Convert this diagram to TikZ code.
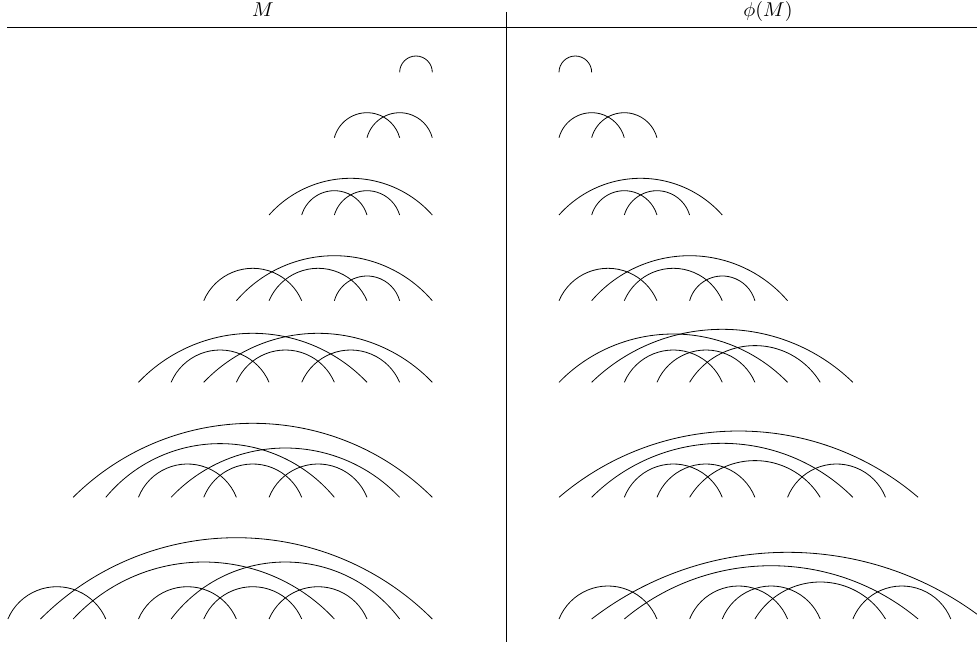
\documentclass[tikz,border=0pt]{standalone}
\usetikzlibrary{calc}

\begin{document}
\begin{tikzpicture}[
    x=0.5pt, y=0.5pt,
    hump/.style={to path={
        let \p1=(\tikztostart), \p2=(\tikztotarget), \p3=(0,#1),
            \n1={(\x2-\x1)/2}, \n2={\y3},
            \n3={(\n1*(\n1/\n2)+\n2)/2},
            \n4={asin((\n3-\n2)/\n3)}
        in arc[start angle=180-\n4, end angle=\n4, radius={\n3*1pt}]}},
    head/.style={anchor=base}
]
\useasboundingbox (0,0) rectangle (977,-647);

% Kopfzeile und Tabellenlinien
\node[head] (hM) at (263,-16.5) {$M$};
\node[head] (hphi) at (768,-16.5) {$\phi(M)$};
\coordinate (hl) at (7,-27);
\coordinate (hr) at (977,-27);
\coordinate (vt) at (506,-12);
\coordinate (vb) at (506,-642);
\draw (hl) -- (hr);
\draw (vt) -- (vb);

% Punkte jeder Zeile (links rechtsbuendig, rechts linksbuendig)
\foreach \r/\n/\y in {1/2/72.3, 2/4/137.7, 3/6/215, 4/8/300.7, 5/10/382.3, 6/12/497.3, 7/14/619} {
    \foreach \k in {1,...,\n} {
        \coordinate (m\r-\k) at ({432.3-(\n-\k)*32.65}, -\y);
        \coordinate (p\r-\k) at ({559+(\k-1)*32.65}, -\y);
    }
}

% Zeile 1
\draw (m1-1) to[hump=16.3] (m1-2);
\draw (p1-1) to[hump=16.3] (p1-2);

% Zeile 2
\draw (m2-1) to[hump=25] (m2-3);
\draw (m2-2) to[hump=25] (m2-4);
\draw (p2-1) to[hump=25] (p2-3);
\draw (p2-2) to[hump=25] (p2-4);

% Zeile 3
\draw (m3-1) to[hump=36.7] (m3-6);
\draw (m3-2) to[hump=24.3] (m3-4);
\draw (m3-3) to[hump=24.3] (m3-5);
\draw (p3-1) to[hump=36.7] (p3-6);
\draw (p3-2) to[hump=24.3] (p3-4);
\draw (p3-3) to[hump=24.3] (p3-5);

% Zeile 4
\draw (m4-1) to[hump=32.4] (m4-4);
\draw (m4-2) to[hump=45] (m4-8);
\draw (m4-3) to[hump=32.4] (m4-6);
\draw (m4-5) to[hump=24.7] (m4-7);
\draw (p4-1) to[hump=32.4] (p4-4);
\draw (p4-2) to[hump=45] (p4-8);
\draw (p4-3) to[hump=32.4] (p4-6);
\draw (p4-5) to[hump=24.7] (p4-7);

% Zeile 5
\draw (m5-1) to[hump=49] (m5-8);
\draw (m5-2) to[hump=32.3] (m5-5);
\draw (m5-3) to[hump=49] (m5-10);
\draw (m5-4) to[hump=32.3] (m5-7);
\draw (m5-6) to[hump=32.3] (m5-9);
\draw (p5-1) to[hump=48.3] (p5-8);
\draw (p5-2) to[hump=53] (p5-10);
\draw (p5-3) to[hump=32.3] (p5-6);
\draw (p5-4) to[hump=32.3] (p5-7);
\draw (p5-5) to[hump=36.7] (p5-9);

% Zeile 6
\draw (m6-1) to[hump=74] (m6-12);
\draw (m6-2) to[hump=53.7] (m6-9);
\draw (m6-3) to[hump=33.3] (m6-6);
\draw (m6-4) to[hump=49.3] (m6-11);
\draw (m6-5) to[hump=33.3] (m6-8);
\draw (m6-7) to[hump=33.3] (m6-10);
\draw (p6-1) to[hump=66.3] (p6-12);
\draw (p6-2) to[hump=54] (p6-10);
\draw (p6-3) to[hump=33.3] (p6-6);
\draw (p6-4) to[hump=33.3] (p6-7);
\draw (p6-5) to[hump=36.7] (p6-9);
\draw (p6-8) to[hump=33.3] (p6-11);

% Zeile 7
\draw (m7-1) to[hump=32.3] (m7-4);
\draw (m7-2) to[hump=81.3] (m7-14);
\draw (m7-3) to[hump=57] (m7-11);
\draw (m7-5) to[hump=32.3] (m7-8);
\draw (m7-6) to[hump=57] (m7-13);
\draw (m7-7) to[hump=32.3] (m7-10);
\draw (m7-9) to[hump=32.3] (m7-12);
\draw (p7-1) to[hump=33] (p7-4);
\draw (p7-2) to[hump=66.7] (p7-14);
\draw (p7-3) to[hump=53.3] (p7-12);
\draw (p7-5) to[hump=33] (p7-8);
\draw (p7-6) to[hump=33] (p7-9);
\draw (p7-7) to[hump=37] (p7-11);
\draw (p7-10) to[hump=33] (p7-13);

\end{tikzpicture}
\end{document}
